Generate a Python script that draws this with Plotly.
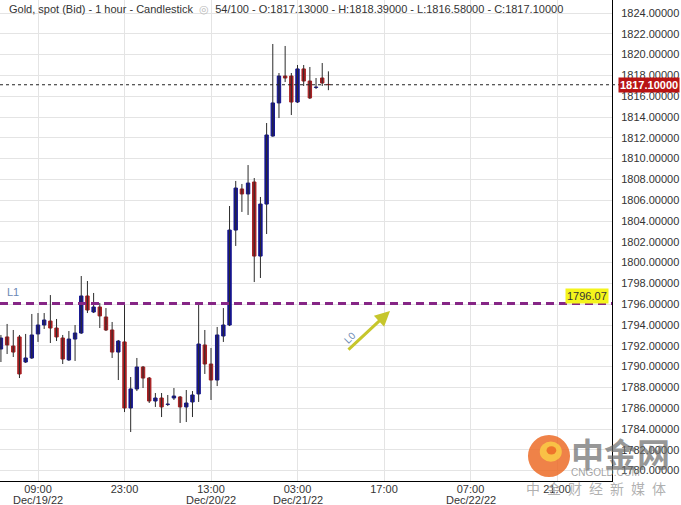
import plotly.graph_objects as go
import pandas as pd

# ---------------- data ----------------
start_time = "2022-12-19 03:00"
n_candles = 54
times = pd.date_range(start_time, periods=n_candles, freq="h")

open_ = [1791.69, 1792.85, 1791.98, 1792.85, 1790.44, 1790.83, 1793.14, 1794.00, 1794.38, 1793.71,
         1792.75, 1790.64, 1792.65, 1793.23, 1796.79, 1795.25, 1795.73, 1794.77, 1793.52, 1791.40,
         1792.37, 1786.02, 1787.85, 1789.96, 1788.90, 1786.69, 1786.98, 1786.36, 1786.98, 1787.08,
         1786.12, 1786.60, 1787.37, 1792.08, 1790.25, 1788.71, 1792.94, 1794.00, 1803.13, 1807.08,
         1806.60, 1807.75, 1800.63, 1805.63, 1812.17, 1815.35, 1817.94, 1817.94, 1815.44, 1818.62,
         1817.46, 1816.84, 1817.75, 1817.13]
high = [1793.04, 1794.10, 1793.52, 1793.04, 1793.14, 1795.06, 1795.15, 1795.15, 1796.88, 1794.58,
        1793.04, 1793.42, 1794.00, 1798.71, 1798.23, 1797.08, 1796.12, 1795.63, 1794.29, 1792.56,
        1795.92, 1789.00, 1790.83, 1790.06, 1789.00, 1787.46, 1787.46, 1787.27, 1787.94, 1787.17,
        1787.75, 1787.65, 1796.02, 1793.52, 1791.79, 1793.81, 1795.63, 1805.44, 1807.85, 1807.56,
        1809.38, 1808.13, 1806.31, 1813.42, 1821.02, 1818.23, 1820.83, 1818.23, 1819.00, 1819.00,
        1818.81, 1817.75, 1819.19, 1818.39]
low = [1790.44, 1791.21, 1790.92, 1788.90, 1790.35, 1790.73, 1792.37, 1793.62, 1792.27, 1792.46,
       1790.25, 1790.54, 1790.54, 1793.14, 1795.15, 1795.15, 1793.71, 1793.42, 1790.83, 1788.71,
       1785.63, 1783.71, 1787.65, 1787.94, 1786.50, 1786.12, 1785.15, 1786.21, 1786.79, 1784.58,
       1784.67, 1785.15, 1786.60, 1789.29, 1786.79, 1788.13, 1792.37, 1793.90, 1801.60, 1804.87,
       1804.58, 1798.13, 1798.52, 1802.75, 1812.10, 1813.90, 1817.36, 1814.19, 1815.35, 1816.98,
       1815.73, 1816.69, 1816.98, 1816.58]
close = [1792.75, 1792.08, 1791.40, 1789.29, 1790.83, 1793.04, 1794.00, 1794.48, 1793.71, 1792.85,
         1790.73, 1792.65, 1793.23, 1796.79, 1795.44, 1795.73, 1794.87, 1793.52, 1791.40, 1792.46,
         1786.02, 1787.85, 1789.96, 1788.90, 1786.69, 1786.98, 1786.12, 1786.40, 1787.17, 1786.12,
         1786.50, 1787.27, 1792.17, 1790.25, 1788.71, 1793.04, 1794.00, 1803.13, 1807.17, 1806.60,
         1807.65, 1800.63, 1805.63, 1812.27, 1815.35, 1817.94, 1817.75, 1815.44, 1818.62, 1817.46,
         1815.83, 1816.88, 1817.27, 1817.10]

last_price = 1817.10
level_l1 = 1796.07

tick_times = ["2022-12-19 09:00", "2022-12-19 23:00", "2022-12-20 13:00", "2022-12-21 03:00",
              "2022-12-21 17:00", "2022-12-22 07:00", "2022-12-22 21:00"]
tick_text = ["09:00", "23:00", "13:00", "03:00", "17:00", "07:00", "21:00"]
date_label_times = ["2022-12-19 09:00", "2022-12-20 13:00", "2022-12-21 03:00", "2022-12-22 07:00"]
date_labels = ["Dec/19/22", "Dec/20/22", "Dec/21/22", "Dec/22/22"]

title_text = ("Gold, spot (Bid) - 1 hour - Candlestick  <span style='color:#b8b8b8'>◎</span>  "
              "54/100 - O:1817.13000 - H:1818.39000 - L:1816.58000 - C:1817.10000")

# ---------------- styles ----------------
UP = "#15158f"
DOWN = "#a81f22"
WICK = "#2b2b2b"
FONT = "Liberation Sans, Arial, sans-serif"
CJK = "Noto Sans CJK SC"

# wicks
wx, wy = [], []
for t, h, l in zip(times, high, low):
    wx += [t, t, None]
    wy += [l, h, None]

base = [min(o, c) for o, c in zip(open_, close)]
height = [abs(c - o) for o, c in zip(open_, close)]
colors = [UP if c >= o else DOWN for o, c in zip(open_, close)]

fig = go.Figure()
fig.add_trace(go.Scatter(x=wx, y=wy, mode="lines", line=dict(color=WICK, width=1),
                         hoverinfo="skip", connectgaps=False))
fig.add_trace(go.Bar(x=times, y=height, base=base, width=0.55 * 3600 * 1000,
                     marker=dict(color=colors, line=dict(color=colors, width=1))))

# level line L1
fig.add_shape(type="line", xref="paper", x0=0, x1=1, yref="y", y0=level_l1, y1=level_l1,
              line=dict(color="#862686", width=3, dash="8px,5px"), layer="above")
# last price dotted line
fig.add_shape(type="line", xref="paper", x0=0, x1=1.012, yref="y", y0=last_price, y1=last_price,
              line=dict(color="#222222", width=1, dash="3px,3px"), layer="above")

annotations = [
    dict(text=title_text, xref="paper", yref="paper", x=0.012, y=0.981, xanchor="left",
         yanchor="middle", showarrow=False, font=dict(size=11, color="#333333", family=FONT)),
    dict(text="<b>1817.10000</b>", xref="paper", yref="y", x=1, y=last_price, xanchor="left",
         yanchor="middle", xshift=6, showarrow=False, bgcolor="#b81414", borderpad=1,
         font=dict(size=11, color="white", family=FONT)),
    dict(text="1796.07", xref="paper", yref="y", x=1, y=level_l1, xanchor="right",
         yanchor="middle", xshift=-3, yshift=7, showarrow=False, bgcolor="#f4f41c", borderpad=1,
         font=dict(size=11, color="#333333", family=FONT)),
    dict(text="L1", xref="paper", yref="y", x=0.008, y=level_l1, xanchor="left",
         yanchor="middle", yshift=11, showarrow=False,
         font=dict(size=11, color="#6a88b4", family=FONT)),
    dict(text="", xref="x", yref="y", x="2022-12-21 17:58", y=1795.35, ax=-43, ay=40,
         showarrow=True, arrowhead=2, arrowsize=1, arrowwidth=3, arrowcolor="#c6c62c"),
    dict(text="L0", xref="x", yref="y", x="2022-12-21 11:30", y=1792.8, textangle=-45,
         xanchor="center", yanchor="middle", showarrow=False,
         font=dict(size=10, color="#6a88b4", family=FONT)),
    # watermark
    dict(text="<b>中金网</b>", xref="paper", yref="paper", x=1.0147, y=0.058,
         xanchor="center", yanchor="middle", showarrow=False,
         font=dict(size=33, color="rgba(105,105,105,0.7)", family=CJK)),
    dict(text="CNGOLD.COM", xref="paper", yref="paper", x=0.990, y=0.0187,
         xanchor="center", yanchor="middle", showarrow=False,
         font=dict(size=10, color="rgba(140,140,140,0.8)", family=FONT)),
    dict(text="中\u2002金\u2002财\u2002经\u2002新\u2002媒\u2002体", xref="paper", yref="paper",
         x=0.974, y=-0.0146, xanchor="center", yanchor="middle", showarrow=False,
         font=dict(size=14, color="rgba(150,150,150,0.75)", family=CJK)),
]
for t, d in zip(date_label_times, date_labels):
    annotations.append(dict(text=d, xref="x", yref="paper", x=t, y=-0.04, xanchor="center",
                            yanchor="middle", showarrow=False,
                            font=dict(size=11, color="#333333", family=FONT)))

shapes_wm = [
    dict(type="circle", xref="paper", yref="paper", x0=0.8627, x1=0.9314, y0=0.0083, y1=0.0956,
         fillcolor="rgba(236,108,40,0.85)", line=dict(width=0), layer="above"),
    dict(type="circle", xref="paper", yref="paper", x0=0.882, x1=0.918, y0=0.040, y1=0.082,
         fillcolor="rgba(250,200,70,0.9)", line=dict(width=0), layer="above"),
    dict(type="circle", xref="paper", yref="paper", x0=0.893, x1=0.909, y0=0.055, y1=0.072,
         fillcolor="rgba(236,108,40,0.9)", line=dict(width=0), layer="above"),
]
for s in shapes_wm:
    fig.add_shape(**s)

fig.update_layout(
    width=681, height=505,
    margin=dict(l=0, r=69, t=0, b=24),
    plot_bgcolor="white", paper_bgcolor="white",
    showlegend=False,
    annotations=annotations,
    font=dict(family=FONT, size=11, color="#333333"),
    xaxis=dict(type="date", range=["2022-12-19 02:51", "2022-12-23 05:54"],
               tickvals=tick_times, ticktext=tick_text, showgrid=True, gridcolor="#e4e4e4",
               gridwidth=1, showline=True, linecolor="black", linewidth=1, ticks="",
               zeroline=False, automargin=False, tickfont=dict(size=11, color="#333333"),
               ticklabelstandoff=-2, fixedrange=True),
    yaxis=dict(side="right", range=[1779.0, 1825.25], dtick=2, tick0=0, tickformat=".5f",
               showgrid=True, gridcolor="#e4e4e4", gridwidth=1, showline=True,
               linecolor="black", linewidth=1, ticks="", zeroline=False, automargin=False,
               ticklabelstandoff=6, tickfont=dict(size=11, color="#333333")),
)

fig.write_html("out.html", config={"displayModeBar": False},
               post_script="document.body.style.margin='0';document.body.style.padding='0';"
                           "document.body.style.overflow='hidden';")
